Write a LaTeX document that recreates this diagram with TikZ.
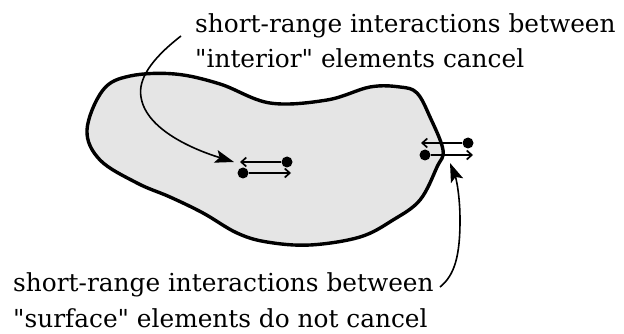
\documentclass[tikz,border=0pt]{standalone}
\usepackage{fontspec}
\setmainfont{DejaVu Serif}
\usetikzlibrary{arrows.meta}

\tikzset{
  note/.style={anchor=base west, inner sep=0pt, font=\fontsize{24.8}{28}\selectfont},
  dot/.style={circle, fill=black, inner sep=0pt, minimum size=11pt},
  pair/.style={line width=1.7pt, -{Straight Barb[length=5pt,width=9pt]}},
  lead/.style={line width=1.6pt, -{Stealth[length=19pt,width=13pt,inset=4pt]}}
}

\begin{document}
\begin{tikzpicture}[x=1pt,y=-1pt]
\useasboundingbox (0,0) rectangle (624,334);
\filldraw[fill=gray!20, line width=3.4pt] plot[smooth cycle, tension=0.6] coordinates {
  (87,130) (103,90) (130,76) (175,74) (220,84) (270,103) (327,100) (370,87)
  (400,87) (417,93) (430,117) (443,150) (437,167) (420,200) (393,220)
  (360,237) (310,245) (267,242) (237,233) (203,213) (170,197) (137,183) (100,160)};
\node[note] (top1) at (195,33) {short-range interactions between};
\node[note] (top2) at (195,68) {\textquotedbl interior\textquotedbl\ elements cancel};
\node[note] (bot1) at (13,291) {short-range interactions between};
\node[note] (bot2) at (13,327) {\textquotedbl surface\textquotedbl\ elements do not cancel};
\node[dot] (in1) at (287,162) {};
\node[dot] (in2) at (243,173) {};
\node[dot] (su1) at (468,143) {};
\node[dot] (su2) at (425,155) {};
\coordinate (in1t) at (240,162);
\coordinate (in2t) at (291,173);
\coordinate (su1t) at (421,143);
\coordinate (su2t) at (473,155);
\draw[pair] (in1) -- (in1t);
\draw[pair] (in2) -- (in2t);
\draw[pair] (su1) -- (su1t);
\draw[pair] (su2) -- (su2t);
\coordinate (topst) at (181,36);
\coordinate (topen) at (234,162);
\coordinate (botst) at (440,287);
\coordinate (boten) at (450,163);
\draw[lead] (topst) .. controls (150,60) and (138,80) .. (141,97)
  .. controls (146,130) and (195,150) .. (topen);
\draw[lead] (botst) .. controls (455,275) and (460,255) .. (460,220)
  .. controls (460,195) and (456,178) .. (boten);
\end{tikzpicture}
\end{document}
